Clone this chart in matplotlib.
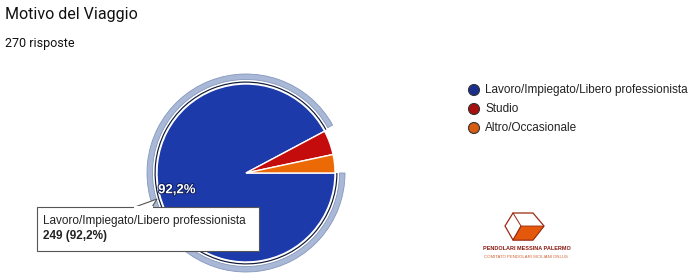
import matplotlib
matplotlib.use("Agg")
import matplotlib.pyplot as plt
from matplotlib.patches import Wedge, Rectangle, Polygon, Circle
import matplotlib.patheffects as pe

# data
categories = ["Lavoro/Impiegato/Libero professionista", "Studio", "Altro/Occasionale"]
counts = [249, 12, 9]
colors = ["#1c3aaa", "#c40c0c", "#ec6a06"]
legend_colors = ["#1a2f8c", "#a80f0f", "#d75c10"]
title = "Motivo del Viaggio"
subtitle = "270 risposte"

W, H = 698, 278
fig = plt.figure(figsize=(W / 100, H / 100), dpi=100)
ax = fig.add_axes([0, 0, 1, 1])

# pie in pixel coordinates (y up)
cx, cy, r = 246, H - 173, 89


def pct_label(p):
    return f"{p:.1f}%".replace(".", ",") if p > 10 else ""


wedges, _, autotexts = ax.pie(
    counts, colors=colors, startangle=0, counterclock=False,
    center=(cx, cy), radius=r, autopct=pct_label, pctdistance=0.8,
    wedgeprops=dict(edgecolor="white", linewidth=1.0), frame=True,
)
for t in autotexts:
    t.set_color("white")
    t.set_fontsize(9.5)
    t.set_family("Liberation Sans")
    t.set_fontweight("bold")
    t.set_path_effects([pe.withStroke(linewidth=1.4, foreground="#0d1c5c")])

# highlight ring around the hovered slice
lav_start = 360 * (counts[1] + counts[2]) / sum(counts)
ax.add_patch(Wedge((cx, cy), r + 2.5, lav_start + 0.5, 360, width=1.2,
                   facecolor="#111a3a", edgecolor="none"))
ax.add_patch(Wedge((cx, cy), r + 10, lav_start + 1, 360, width=5.5,
                   facecolor="#a9b8d6", edgecolor="#8497bd", linewidth=0.6))

ax.set_xlim(0, W)
ax.set_ylim(0, H)
ax.set_aspect("auto")
ax.axis("off")

# title
fig.text(5 / W, 1 - 14 / H, title, fontsize=11.5, family="Roboto",
         color="#111111", va="center", ha="left")
fig.text(5 / W, 1 - 43 / H, subtitle, fontsize=9, family="Roboto",
         color="#111111", va="center", ha="left")

# legend
leg_y = [90, 109, 128]
for lab, col, y in zip(categories, legend_colors, leg_y):
    ax.add_patch(Circle((474, H - y), 5.5, facecolor=col, edgecolor="#333333",
                        linewidth=0.8))
    ax.text(485, H - y, lab, fontsize=8.5, family="Liberation Sans",
            color="#222222", va="center", ha="left")

# tooltip
ax.add_patch(Polygon([(135, H - 207), (152, H - 207), (157, H - 199)],
                     closed=True, facecolor="white", edgecolor="#555555",
                     linewidth=0.8, zorder=5))
ax.add_patch(Rectangle((37, H - 251), 222, 44, facecolor="white",
                       edgecolor="#555555", linewidth=0.8, zorder=5))
ax.add_patch(Rectangle((134, H - 208.5), 19, 2.5, facecolor="white",
                       edgecolor="none", zorder=6))
ax.text(43, H - 221, categories[0], fontsize=8.5, family="Liberation Sans",
        color="#222222", va="center", ha="left", zorder=7)
ax.text(43, H - 236, f"{counts[0]} ({counts[0] / sum(counts) * 100:.1f}%)".replace(".", ","),
        fontsize=8.5, family="Liberation Sans", fontweight="bold",
        color="#222222", va="center", ha="left", zorder=7)

# logo
hexagon = [(513, 213), (533, 213), (544, 226), (533, 240), (513, 240), (505, 226)]
ax.add_patch(Polygon([(x, H - y) for x, y in hexagon], closed=True,
                     facecolor="white", edgecolor="#9a2a10", linewidth=0.9))
face = [(521, 226), (544, 226), (533, 240), (513, 240)]
ax.add_patch(Polygon([(x, H - y) for x, y in face], closed=True,
                     facecolor="#e4580c", edgecolor="#9a2a10", linewidth=0.6))
ax.plot([513, 521, 513], [H - 213, H - 226, H - 240], color="#9a2a10", lw=0.7)
ax.text(527, H - 249, "PENDOLARI MESSINA PALERMO", fontsize=4.0,
        family="Liberation Sans", color="#8a1a10", ha="center", va="center",
        fontweight="bold")
ax.text(526, H - 257, "COMITATO PENDOLARI SICILIANI ONLUS", fontsize=3.1,
        family="Liberation Sans", color="#d06030", ha="center", va="center")

fig.savefig("out.png", dpi=100)
